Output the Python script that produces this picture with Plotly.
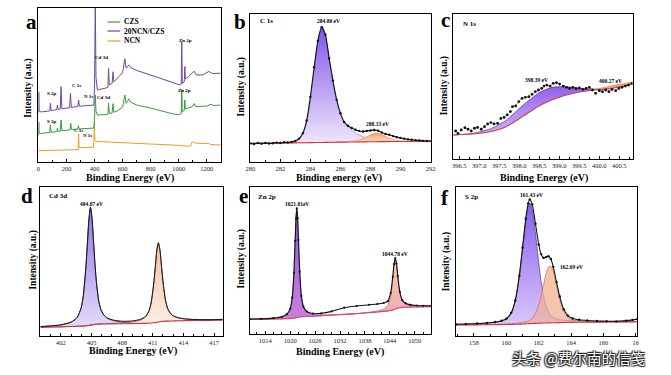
import plotly.graph_objects as go

W, H = 671, 375
SERIF = "Liberation Serif"

# ---------------- data ----------------
# (a) survey spectra
A_NCN_X = [0, 100, 200, 278, 283, 286, 289, 300, 350, 392, 396, 399, 402, 410, 450, 500, 600, 700, 800, 900, 1000, 1070, 1085, 1095, 1105, 1120, 1200, 1215, 1225, 1300]
A_NCN_Y = [7.3, 7.4, 7.5, 7.6, 8.0, 18.0, 9.5, 9.3, 9.4, 9.6, 14.0, 26.0, 14.0, 13.4, 13.2, 13.0, 12.6, 12.2, 11.8, 11.3, 10.8, 10.2, 10.4, 12.8, 13.0, 12.2, 11.8, 12.0, 11.4, 11.0]
A_CZS_X = [0, 2, 5, 20, 60, 80, 85, 90, 130, 135, 140, 155, 161, 167, 200, 225, 230, 236, 280, 285, 290, 340, 395, 400, 405, 410, 420, 480, 495, 500, 505, 525, 532, 538, 560, 600, 616, 625, 645, 655, 700, 800, 900, 970, 1000, 1018, 1022, 1026, 1040, 1044, 1048, 1070, 1100, 1110, 1120, 1200, 1230, 1250, 1300]
A_CZS_Y = [17.0, 26.0, 18.5, 18.6, 19.0, 19.2, 24.0, 19.3, 19.7, 22.0, 19.8, 20.0, 27.3, 20.3, 20.6, 21.0, 25.1, 21.1, 21.4, 23.5, 21.5, 21.8, 22.0, 28.0, 43.5, 33.0, 30.5, 30.8, 31.0, 38.1, 31.5, 31.8, 37.9, 32.3, 33.0, 35.5, 43.5, 38.0, 41.0, 39.0, 37.0, 35.0, 32.6, 31.0, 30.8, 31.2, 47.0, 32.8, 33.5, 40.3, 34.5, 35.0, 36.0, 38.0, 36.0, 36.3, 37.5, 36.6, 37.0]
A_MIX_X = [0, 2, 5, 20, 60, 80, 85, 90, 130, 135, 140, 155, 161, 167, 200, 222, 228, 234, 280, 286, 292, 340, 395, 400, 405, 410, 420, 480, 495, 500, 505, 525, 532, 538, 560, 600, 616, 625, 645, 655, 700, 800, 900, 970, 1010, 1018, 1022, 1026, 1040, 1044, 1048, 1070, 1090, 1110, 1125, 1170, 1215, 1240, 1300]
A_MIX_Y = [32.0, 45.6, 33.0, 32.5, 33.0, 33.2, 38.1, 33.4, 34.0, 37.0, 34.1, 34.3, 48.9, 34.6, 35.0, 35.3, 44.6, 35.5, 36.0, 40.3, 36.2, 36.6, 37.0, 50.0, 105.0, 55.0, 46.8, 48.0, 48.5, 60.8, 50.0, 51.0, 58.6, 52.0, 54.0, 58.0, 67.0, 61.0, 63.0, 61.5, 59.5, 56.5, 53.5, 51.5, 50.0, 50.5, 78.0, 51.0, 52.0, 62.0, 54.0, 55.4, 57.0, 59.0, 56.5, 56.5, 58.8, 57.5, 57.6]
A_TICKS = [0, 200, 400, 600, 800, 1000, 1200]
A_NAMES = ["CZS", "20NCN/CZS", "NCN"]

# (b) C 1s
B_DATA_X = [280.0, 280.25, 280.5, 280.75, 281.0, 281.25, 281.5, 281.75, 282.0, 282.25, 282.5, 282.75, 283.0, 283.25, 283.5, 283.75, 284.0, 284.25, 284.5, 284.75, 285.0, 285.25, 285.5, 285.75, 286.0, 286.25, 286.5, 286.75, 287.0, 287.25, 287.5, 287.75, 288.0, 288.25, 288.5, 288.75, 289.0, 289.25, 289.5, 289.75, 290.0, 290.25, 290.5, 290.75, 291.0, 291.25, 291.5, 291.75, 292.0]
B_DATA_Y = [12.6, 12.2, 12.8, 12.4, 12.9, 12.5, 12.7, 13.1, 12.8, 13.3, 13.2, 13.6, 14.3, 15.8, 19.5, 28.0, 44.0, 64.0, 82.0, 91.0, 86.0, 70.0, 55.0, 42.0, 33.0, 27.0, 24.5, 23.0, 21.8, 21.0, 20.6, 21.0, 21.3, 21.6, 21.2, 20.0, 19.0, 18.4, 17.5, 16.8, 16.3, 15.7, 15.3, 15.0, 14.8, 14.6, 14.3, 14.2, 14.1]
B_X = [280, 281, 282, 282.5, 283, 283.3, 283.6, 283.8, 284.0, 284.2, 284.4, 284.6, 284.8, 285.0, 285.2, 285.4, 285.6, 285.8, 286.0, 286.3, 286.6, 287.0, 287.3, 287.6, 287.9, 288.1, 288.3, 288.5, 288.7, 288.9, 289.2, 289.6, 290.0, 290.5, 291, 292]
B_BG = [12.6, 12.7, 12.8, 12.9, 12.95, 13.0, 13.0, 13.05, 13.1, 13.1, 13.15, 13.2, 13.2, 13.25, 13.3, 13.3, 13.35, 13.4, 13.4, 13.45, 13.5, 13.55, 13.6, 13.6, 13.65, 13.7, 13.7, 13.75, 13.75, 13.8, 13.8, 13.85, 13.9, 13.9, 13.95, 14.0]
B_C1 = [12.6, 12.7, 12.9, 13.1, 14.0, 16.0, 21.5, 29.5, 42.5, 59.0, 75.0, 87.0, 91.5, 86.0, 73.5, 60.5, 49.0, 39.5, 32.0, 26.0, 22.8, 19.5, 18.0, 16.8, 16.0, 15.5, 15.1, 14.8, 14.6, 14.4, 14.2, 14.05, 13.95, 13.9, 13.95, 14.0]
B_C2 = [12.6, 12.7, 12.8, 12.9, 12.95, 13.0, 13.0, 13.05, 13.1, 13.1, 13.15, 13.2, 13.2, 13.25, 13.3, 13.3, 13.35, 13.4, 13.45, 13.55, 13.75, 14.3, 15.1, 16.3, 17.7, 18.7, 19.4, 19.5, 18.9, 17.9, 16.4, 14.9, 14.2, 13.95, 13.95, 14.0]
B_TICKS = [280, 282, 284, 286, 288, 290, 292]

# (c) N 1s
C_DATA_X = [396.41, 396.47, 396.55, 396.64, 396.72, 396.80, 396.88, 396.96, 397.05, 397.13, 397.21, 397.29, 397.37, 397.46, 397.54, 397.62, 397.70, 397.78, 397.83, 397.91, 397.99, 398.07, 398.15, 398.24, 398.32, 398.40, 398.48, 398.56, 398.62, 398.69, 398.77, 398.85, 398.93, 399.01, 399.10, 399.18, 399.26, 399.34, 399.42, 399.50, 399.59, 399.67, 399.75, 399.83, 399.91, 400.00, 400.08, 400.16, 400.24, 400.32, 400.41, 400.49, 400.57, 400.65, 400.73, 400.82]
C_DATA_Y = [19.3, 17.7, 20.0, 21.6, 20.5, 19.3, 21.2, 21.8, 20.5, 22.3, 24.2, 25.1, 24.2, 24.6, 28.0, 28.7, 30.4, 32.7, 36.1, 36.6, 39.6, 41.8, 42.5, 43.0, 44.6, 46.4, 47.6, 48.7, 50.3, 51.0, 50.3, 52.2, 52.6, 51.7, 50.3, 49.4, 48.7, 49.4, 48.5, 49.0, 48.0, 48.7, 49.4, 47.6, 45.3, 47.1, 46.4, 47.6, 46.4, 48.0, 47.1, 48.7, 49.4, 50.3, 51.0, 52.2]
C_X = [396.35, 396.8, 397.26, 397.67, 398.08, 398.49, 398.82, 399.15, 399.5, 399.71, 399.9, 400.12, 400.3, 400.5, 400.83]
C_BG = [16.6, 17.2, 18.8, 22.3, 29.2, 36.6, 40.8, 44.0, 46.2, 47.1, 47.7, 48.1, 48.7, 49.8, 51.6]
C_C1 = [16.6, 17.5, 20.6, 26.6, 36.8, 45.6, 49.4, 49.9, 48.8, 48.3, 48.1, 48.3, 48.8, 49.85, 51.6]
C_C2 = [16.6, 17.2, 18.8, 22.3, 29.2, 36.6, 40.8, 44.0, 46.2, 47.3, 48.2, 49.3, 50.4, 51.5, 53.0]
C_TICKS = [396.5, 397.0, 397.5, 398.0, 398.5, 399.0, 399.5, 400.0, 400.5]

# (d) Cd 3d
D_X = [400.0, 401.0, 402.0, 403.0, 403.6, 404.0, 404.2, 404.45, 404.6, 404.75, 404.9, 405.05, 405.2, 405.35, 405.5, 405.7, 405.9, 406.2, 406.6, 407.2, 408.0, 409.0, 409.8, 410.3, 410.65, 410.85, 411.1, 411.25, 411.4, 411.55, 411.7, 411.85, 412.0, 412.25, 412.5, 412.9, 413.5, 414.3, 415.5, 416.7, 417.85]
D_BG = [5.8, 6.0, 6.15, 6.35, 6.5, 6.6, 6.65, 6.8, 6.9, 7.05, 7.25, 7.45, 7.6, 7.75, 7.85, 7.95, 8.0, 8.05, 8.1, 8.15, 8.2, 8.3, 8.4, 8.5, 8.6, 8.7, 8.85, 9.0, 9.2, 9.4, 9.6, 9.75, 9.85, 9.95, 10.0, 10.1, 10.2, 10.3, 10.45, 10.55, 10.7]
D_C1 = [6.27, 6.71, 7.41, 9.25, 12.4, 19.2, 27.15, 46.3, 62.6, 78.75, 86.25, 79.15, 63.3, 47.25, 34.75, 23.75, 18.0, 13.95, 11.7, 10.2, 9.34, 8.96, 8.87, 8.88, 8.94, 9.02, 9.14, 9.28, 9.47, 9.67, 9.86, 10.0, 10.1, 10.2, 10.2, 10.3, 10.35, 10.4, 10.5, 10.6, 10.75]
D_C2 = [5.85, 6.06, 6.22, 6.44, 6.6, 6.71, 6.77, 6.93, 7.03, 7.19, 7.39, 7.59, 7.75, 7.9, 8.01, 8.12, 8.18, 8.25, 8.34, 8.54, 8.79, 9.42, 10.7, 12.8, 17.0, 22.5, 35.35, 46.4, 57.3, 62.4, 57.7, 47.15, 36.35, 23.75, 17.6, 13.8, 12.1, 11.27, 10.92, 10.83, 10.89]
D_DATA = [6.3, 6.8, 7.5, 9.3, 12.5, 19.3, 27.3, 46.4, 62.7, 78.9, 86.4, 79.3, 63.4, 47.4, 34.9, 23.9, 18.2, 14.2, 11.9, 10.6, 9.9, 10.1, 11.2, 13.2, 17.3, 22.8, 35.6, 46.7, 57.6, 62.7, 58.0, 47.4, 36.6, 24.0, 17.8, 14.0, 12.3, 11.4, 11.0, 10.95, 11.2]
D_TICKS = [402, 405, 408, 411, 414, 417]

# (e) Zn 2p
E_X = [1010.4, 1013, 1016, 1018, 1019.2, 1020.0, 1020.5, 1020.9, 1021.2, 1021.4, 1021.6, 1021.8, 1022.0, 1022.3, 1022.7, 1023.2, 1024.0, 1025.5, 1027.5, 1030, 1033, 1036, 1039, 1041, 1042.5, 1043.5, 1044.2, 1044.7, 1045.0, 1045.3, 1045.6, 1045.9, 1046.4, 1047.0, 1047.8, 1049, 1050.5, 1052, 1053.8]
E_BG = [10.0, 10.1, 10.2, 10.3, 10.4, 10.5, 10.6, 10.75, 10.9, 11.05, 11.2, 11.35, 11.5, 11.65, 11.75, 11.85, 11.95, 12.1, 12.4, 12.8, 13.3, 13.8, 14.5, 15.0, 15.4, 15.7, 16.0, 16.4, 16.7, 17.0, 17.3, 17.6, 17.9, 18.1, 18.2, 18.3, 18.4, 18.5, 18.6]
E_C1 = [10.15, 10.35, 10.8, 11.7, 13.45, 17.1, 24.7, 41.45, 63.3, 78.45, 85.5, 78.75, 63.9, 42.35, 25.85, 18.45, 15.0, 13.3, 12.95, 13.05, 13.45, 13.9, 14.6, 15.05, 15.45, 15.75, 16.05, 16.45, 16.75, 17.05, 17.35, 17.65, 17.95, 18.15, 18.25, 18.35, 18.45, 18.55, 18.65]
E_C2 = [10.0, 10.1, 10.2, 10.3, 10.4, 10.5, 10.6, 10.8, 10.9, 11.1, 11.2, 11.4, 11.5, 11.7, 11.8, 11.9, 12.0, 12.15, 12.45, 12.85, 13.4, 13.95, 14.85, 15.7, 17.0, 19.4, 25.9, 37.4, 46.3, 51.0, 46.9, 38.6, 27.8, 22.3, 20.2, 19.25, 18.9, 18.8, 18.8]
E_DATA = [10.2, 10.3, 10.8, 11.7, 13.5, 17.1, 24.7, 41.5, 63.3, 78.5, 85.5, 78.8, 63.9, 42.4, 25.9, 18.5, 15.3, 13.9, 14.0, 15.4, 17.9, 19.05, 19.9, 20.4, 21.1, 22.3, 27.9, 38.9, 47.6, 51.5, 47.9, 39.5, 28.6, 23.0, 20.9, 19.8, 19.4, 19.2, 19.1]
E_TICKS = [1014, 1020, 1026, 1032, 1038, 1044, 1050]

# (f) S 2p
F_X = [156.9, 157.5, 158.2, 158.8, 159.3, 159.7, 160.0, 160.3, 160.55, 160.8, 161.0, 161.2, 161.35, 161.45, 161.6, 161.8, 162.0, 162.15, 162.3, 162.45, 162.6, 162.75, 162.9, 163.1, 163.3, 163.55, 163.8, 164.1, 164.5, 165.0, 165.6, 166.2, 166.8, 167.4, 167.8, 168.1]
F_BG = [7.4, 7.45, 7.5, 7.55, 7.6, 7.65, 7.7, 7.75, 7.85, 7.95, 8.05, 8.15, 8.25, 8.3, 8.4, 8.5, 8.6, 8.65, 8.7, 8.75, 8.8, 8.85, 8.9, 8.95, 9.0, 9.05, 9.1, 9.15, 9.2, 9.25, 9.3, 9.35, 9.4, 9.45, 9.5, 9.55]
F_C1 = [7.75, 7.92, 8.18, 8.55, 9.09, 9.89, 11.22, 15.02, 23.25, 39.65, 58.25, 77.35, 87.15, 89.3, 84.8, 68.7, 49.1, 36.45, 26.7, 20.15, 16.07, 13.71, 12.42, 11.49, 10.97, 10.6, 10.36, 10.15, 9.97, 9.82, 9.72, 9.67, 9.65, 9.65, 9.68, 9.72]
F_C2 = [7.49, 7.57, 7.66, 7.76, 7.87, 8.0, 8.12, 8.28, 8.5, 8.78, 9.09, 9.52, 10.08, 10.61, 11.93, 15.13, 20.9, 27.15, 34.4, 41.55, 46.3, 46.85, 42.9, 33.65, 24.5, 16.35, 12.43, 10.73, 10.1, 9.81, 9.66, 9.6, 9.58, 9.59, 9.62, 9.66]
F_DATA = [7.84, 8.04, 8.34, 8.76, 9.36, 10.24, 11.64, 15.55, 23.9, 40.48, 59.29, 78.72, 88.98, 91.61, 88.33, 75.33, 61.4, 54.95, 52.4, 52.95, 53.57, 51.71, 46.42, 36.19, 26.47, 17.9, 13.69, 11.73, 10.87, 10.38, 10.08, 9.92, 9.83, 10.3, 10.8, 11.3]
F_TICKS = [158, 160, 162, 164, 166, 168]
F_TICKTEXT = ["158", "160", "162", "164", "166", "16"]


def P(px, py):
    return px / W, 1 - py / H


fig = go.Figure()

# ---------- panel a ----------
COL_CZS, COL_MIX, COL_NCN = "#3c9a3c", "#6a4a9e", "#f29a1f"
fig.add_trace(go.Scatter(x=A_NCN_X, y=A_NCN_Y, mode="lines", line=dict(color=COL_NCN, width=1), xaxis="x", yaxis="y", showlegend=False))
fig.add_trace(go.Scatter(x=A_CZS_X, y=A_CZS_Y, mode="lines", line=dict(color=COL_CZS, width=1), xaxis="x", yaxis="y", showlegend=False))
fig.add_trace(go.Scatter(x=A_MIX_X, y=A_MIX_Y, mode="lines", line=dict(color=COL_MIX, width=1), xaxis="x", yaxis="y", showlegend=False))

PURPLE_CS = [[0, "rgba(236,226,252,0.95)"], [1, "rgba(124,78,232,0.95)"]]


def add_comp(x, bg, comp, xa, ya, cs, top, bottom, linecol):
    fig.add_trace(go.Scatter(x=x, y=bg, mode="lines", line=dict(width=0, shape="spline", smoothing=0.6),
                             xaxis=xa, yaxis=ya, showlegend=False, hoverinfo="skip"))
    fig.add_trace(go.Scatter(x=x, y=comp, mode="lines", fill="tonexty",
                             fillgradient=dict(type="vertical", colorscale=cs, start=bottom, stop=top),
                             line=dict(color=linecol, width=0.7, shape="spline", smoothing=0.6),
                             xaxis=xa, yaxis=ya, showlegend=False))


def add_bg(x, bg, xa, ya, col="#d8343c"):
    fig.add_trace(go.Scatter(x=x, y=bg, mode="lines", line=dict(color=col, width=1.1, shape="spline", smoothing=0.6),
                             xaxis=xa, yaxis=ya, showlegend=False))


def add_data(x, y, xa, ya, msize=2.4, lw=1.1, lcol="#111"):
    fig.add_trace(go.Scatter(x=x, y=y, mode="lines+markers", line=dict(color=lcol, width=lw, shape="spline", smoothing=0.6),
                             marker=dict(color="#111", size=msize), xaxis=xa, yaxis=ya, showlegend=False))


# panel b
add_comp(B_X, B_BG, B_C1, "x2", "y2", PURPLE_CS, 90, 14, "rgba(110,70,200,0.6)")
add_comp(B_X, B_BG, B_C2, "x2", "y2", [[0, "rgba(252,226,205,0.9)"], [1, "rgba(240,150,80,0.95)"]], 20, 13, "rgba(230,130,60,0.8)")
add_bg(B_X, B_BG, "x2", "y2")
add_data(B_DATA_X, B_DATA_Y, "x2", "y2")

# panel c
add_comp(C_X, C_BG, C_C1, "x3", "y3", [[0, "rgba(200,170,245,0.95)"], [1, "rgba(140,90,235,0.95)"]], 50, 18, "#4b2c90")
add_comp(C_X, C_BG, C_C2, "x3", "y3", [[0, "rgba(245,180,120,0.95)"], [1, "rgba(240,150,70,0.95)"]], 53, 46, "#e08a40")
add_bg(C_X, C_BG, "x3", "y3", col="#c8407a")
fig.add_trace(go.Scatter(x=C_DATA_X, y=C_DATA_Y, mode="lines+markers", line=dict(color="#333", width=0.6, dash="dot"),
                         marker=dict(color="#111", size=2.8), xaxis="x3", yaxis="y3", showlegend=False))

# panel d
add_comp(D_X, D_BG, D_C1, "x4", "y4", [[0, "rgba(225,215,250,0.95)"], [1, "rgba(140,110,230,0.95)"]], 86, 7, "#3a2a70")
add_comp(D_X, D_BG, D_C2, "x4", "y4", [[0, "rgba(252,235,225,0.95)"], [1, "rgba(244,190,160,0.95)"]], 62, 9, "#703a2a")
add_bg(D_X, D_BG, "x4", "y4")
add_data(D_X, D_DATA, "x4", "y4", msize=0.1, lw=1.0)

# panel e
add_comp(E_X, E_BG, E_C1, "x5", "y5", [[0, "rgba(200,120,220,0.95)"], [1, "rgba(130,80,230,0.95)"]], 85, 11, "#a04cc0")
add_comp(E_X, E_BG, E_C2, "x5", "y5", [[0, "rgba(240,170,170,0.9)"], [1, "rgba(246,196,165,0.9)"]], 51, 17, "#c06070")
add_bg(E_X, E_BG, "x5", "y5", col="#d84a6a")
add_data(E_X, E_DATA, "x5", "y5", msize=2.2, lw=1.1)

# panel f
add_comp(F_X, F_BG, F_C1, "x6", "y6", [[0, "rgba(215,195,250,0.95)"], [1, "rgba(130,85,235,0.95)"]], 90, 8, "#4a3090")
add_comp(F_X, F_BG, F_C2, "x6", "y6", [[0, "rgba(240,170,150,0.7)"], [1, "rgba(245,185,140,0.8)"]], 47, 9, "#c07050")
add_bg(F_X, F_BG, "x6", "y6")
add_data(F_X, F_DATA, "x6", "y6", msize=2.4, lw=1.1)

# ---------- axes ----------
panels = {
    "": (34, 219, 8, 162, [0, 1300], A_TICKS, None, 100),
    "2": (249, 432, 14, 162, [280, 292], B_TICKS, None, 1),
    "3": (455, 637, 14, 159, [396.35, 400.83], C_TICKS, [f"{v:.1f}" for v in C_TICKS], 0.25),
    "4": (36, 221, 187, 336, [400.0, 417.85], D_TICKS, None, 1),
    "5": (249, 432, 187, 334, [1010.4, 1053.8], E_TICKS, None, 2),
    "6": (458, 642, 187, 336, [156.9, 168.1], F_TICKS, F_TICKTEXT, 1),
}
layout_axes = {}
for k, (l, r, t, b, xr, tv, tt, md) in panels.items():
    xa = dict(domain=[l / W, r / W], range=xr, anchor="y" + k, showline=True, linecolor="black", linewidth=1.3,
              mirror=True, ticks="inside", ticklen=3, tickwidth=1, tickcolor="black",
              tickmode="array", tickvals=tv, ticktext=tt if tt else [str(v) for v in tv],
              tickfont=dict(family=SERIF, size=6.5, color="#222"), showgrid=False, zeroline=False,
              minor=dict(ticks="inside", ticklen=1.8, dtick=md, tickcolor="black"))
    ya = dict(domain=[1 - b / H, 1 - t / H], range=[0, 100], anchor="x" + k, showline=True, linecolor="black",
              linewidth=1.3, mirror=True, showticklabels=False, ticks="", showgrid=False, zeroline=False)
    layout_axes["xaxis" + k] = xa
    layout_axes["yaxis" + k] = ya

ann = []


def T(px, py, text, size, bold=True, xanchor="center", angle=0, family=SERIF, color="black"):
    x, y = P(px, py)
    ann.append(dict(x=x, y=y, xref="paper", yref="paper", text=("<b>%s</b>" % text) if bold else text,
                    showarrow=False, xanchor=xanchor, yanchor="middle", textangle=angle,
                    font=dict(family=family, size=size, color=color)))


# panel letters
for px, py, s in [(27, 22, "a"), (239, 22, "b"), (447, 20, "c"), (22, 196, "d"), (242, 196, "e"), (447, 198, "f")]:
    T(px, py, s, 21)
# y titles
for px, py in [(23, 88), (240, 87), (446, 86), (28, 260), (240, 259), (448, 262)]:
    T(px, py, "Intensity (a.u.)", 9.5, angle=-90)
# x titles
T(127, 178, "Binding Energy (eV)", 10)
T(339, 178, "Binding energy (eV)", 10)
T(547, 178, "Binding Energy (eV)", 10)
T(130, 351, "Binding Energy (eV)", 10)
T(340, 352, "Binding Energy (eV)", 10)

# panel a peak labels
for px, py, s in [(48, 93, "S 2p"), (73, 85, "C 1s"), (85, 96, "N 1s"), (98, 57, "Cd 3d"), (100, 98, "Cd 3d"),
                  (48, 122, "S 2p"), (75, 130, "C 1s"), (84, 135, "N 1s"), (183, 40, "Zn 2p"), (182, 90, "Zn 2p")]:
    T(px, py, s, 5)
# legend (panel a)
leg_cols = [COL_CZS, COL_MIX, COL_NCN]
shapes = []
for i, (nm, col) in enumerate(zip(A_NAMES, leg_cols)):
    py = [22, 31, 41][i]
    x0, y0 = P(104, py)
    x1, _ = P(117, py)
    shapes.append(dict(type="line", xref="paper", yref="paper", x0=x0, x1=x1, y0=y0, y1=y0,
                       line=dict(color=col, width=1.2)))
    T(119, py, nm, 7.5, xanchor="left")

# panel titles and peak annotations
T(257, 21, "C 1s", 7, xanchor="left")
T(328, 21, "284.80 eV", 5.5)
T(378, 124, "288.33 eV", 5.5)
T(463, 24, "N 1s", 7, xanchor="left")
T(540, 80, "398.39 eV", 5.5)
T(615, 81, "400.27 eV", 5.5)
T(43, 196, "Cd 3d", 7, xanchor="left")
T(88, 204, "404.87 eV", 5.5)
T(255, 197, "Zn 2p", 7, xanchor="left")
T(296, 204, "1021.81eV", 5.5)
T(396, 254, "1044.78 eV", 5.5)
T(465, 197, "S 2p", 7, xanchor="left")
T(534, 195, "161.43 eV", 5.5)
T(561, 267, "162.69 eV", 5.5, xanchor="left")

# watermark
wx, wy = P(582, 357)
ann.append(dict(x=wx, y=wy, xref="paper", yref="paper", text="头条 @费尔南的信笺", showarrow=False,
                xanchor="center", yanchor="middle",
                font=dict(family="Noto Sans CJK SC", size=14.5, color="white",
                          shadow="1px 1px 1px #222, -1px -1px 1px #222, 1px -1px 1px #222, -1px 1px 1px #222")))

fig.update_layout(width=W, height=H, margin=dict(l=0, r=0, t=0, b=0), paper_bgcolor="white",
                  plot_bgcolor="white", showlegend=False, annotations=ann, shapes=shapes, **layout_axes)

fig.write_html("out.html", config={"displayModeBar": False},
               post_script="document.body.style.margin='0';document.body.style.overflow='hidden';")
